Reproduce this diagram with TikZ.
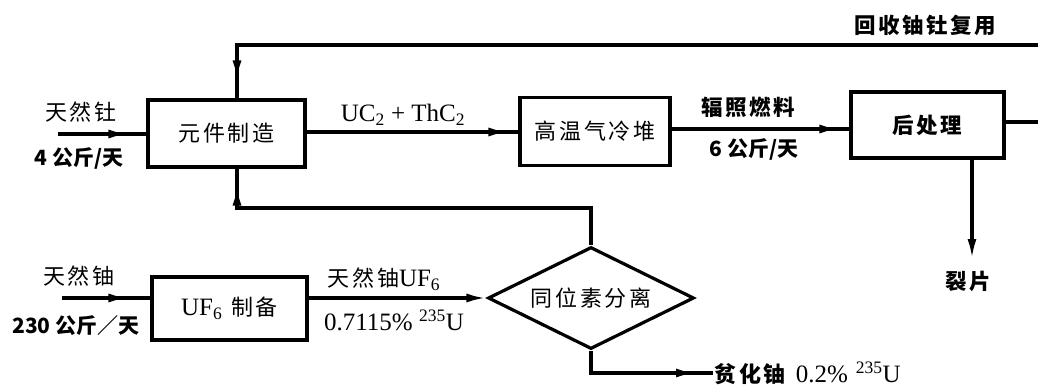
\documentclass[tikz,border=0pt]{standalone}
\usepackage{fontspec}
\setmainfont{Liberation Serif}
\newfontfamily\cjk[LetterSpace=12]{Noto Sans CJK SC}
\newfontfamily\cjkn{Noto Sans CJK SC}
\usetikzlibrary{arrows.meta,shapes.geometric,decorations.markings}
\newcommand\cn{\cjk\fontsize{22}{24}\selectfont}
\newcommand\cnb{\cjk\bfseries\fontsize{21.5}{24}\selectfont}
\newcommand\cnn{\cjkn\bfseries\fontsize{21}{24}\selectfont}
\newcommand\lat{\fontsize{25}{27}\selectfont}
\begin{document}
\begin{tikzpicture}[x=1pt,y=-1pt,line width=3.2pt,
  box/.style={draw,rectangle,inner sep=0pt,font=\cn},
  lbl/.style={inner sep=0pt,font=\cn},
  lblb/.style={inner sep=0pt,font=\cnb},
  lbln/.style={inner sep=0pt,font=\cnn},
  lbll/.style={inner sep=0pt,font=\lat},
  arrowat/.style={postaction={decorate},decoration={markings,
     mark=at position #1 with {\arrow{Latex[length=20pt,width=9pt]}}}},
  endarrow/.style={-{Latex[length=20pt,width=9pt]}}]
\useasboundingbox (0,0) rectangle (1038,388);

% boxes
\node[box,minimum width=157,minimum height=67] (yz) at (226.5,133.5) {元件制造};
\node[box,minimum width=150,minimum height=68] (gw) at (595,131.5) {高温气冷堆};
\node[box,minimum width=153,minimum height=66,font=\cnb] (hc) at (927.5,125) {后处理};
\node[box,minimum width=155,minimum height=63,font=\lat] (uf) at (229.5,308.5) {UF\textsubscript{6}\hspace{9pt}{\cjk\fontsize{22}{24}\selectfont 制备}};
\node[draw,shape=diamond,aspect=2,inner sep=0pt,minimum width=206,minimum height=102,font=\cn] (dm) at (591,298) {同位素分离};

% labels
\node[lbl] (l1) at (81,112) {天然钍};
\node[lbln] (l2) at (79,158) {4 公斤/天};
\node[lbll] (l3) at (403,115) {UC\textsubscript{2} + ThC\textsubscript{2}};
\node[lblb] (l4) at (748,107) {辐照燃料};
\node[lbln] (l5) at (754,149) {6 公斤/天};
\node[lblb] (l6) at (925,25) {回收铀钍复用};
\node[lbl] (l7) at (79,276) {天然铀};
\node[lbln] (l8) at (76,326) {230 公斤／天};
\node[lbll] (l9) at (384,279) {{\cjk\fontsize{22}{24}\selectfont 天然铀}UF\textsubscript{6}};
\node[lbll] (l10) at (394,320) {0.7115\% \textsuperscript{235}U};
\node[lblb] (lp) at (968,281) {裂片};
\node[lbll,anchor=west] (pf) at (713,373) {{\cjk\bfseries\fontsize{22}{24}\selectfont 贫化铀}\hspace{10pt}0.2\%\hspace{8pt}\textsuperscript{235}U};

% coordinates
\coordinate (in1) at (58,134);
\coordinate (in2) at (62,298);
\coordinate (r1) at (1060,122);
\coordinate (r2) at (1060,45);
\coordinate (r3) at (237,45);
\coordinate (j1) at (237,208);
\coordinate (f1) at (972,259);

% connectors
\draw[arrowat=-18pt] (in1) -- (in1 -| yz.west);
\draw[arrowat=-10pt] (yz.east |- 0,132) -- (gw.west |- 0,132);
\draw[arrowat=-10pt] (gw.east |- 0,129) -- (hc.west |- 0,129);
\draw[arrowat=-18pt] (hc.east |- r1) -- (r1) -- (r2) -- (r3) -- (r3 |- yz.north);
\draw[arrowat=-17pt] (dm.north) |- (j1) -- (j1 |- yz.south);
\draw[arrowat=-22pt] (in2) -- (in2 -| uf.west);
\draw[endarrow] (uf.east |- dm.west) -- (dm.west);
\draw[endarrow] (f1 |- hc.south) -- (f1);
\draw[arrowat=-17pt] (dm.south) |- (pf.west);
\end{tikzpicture}
\end{document}
